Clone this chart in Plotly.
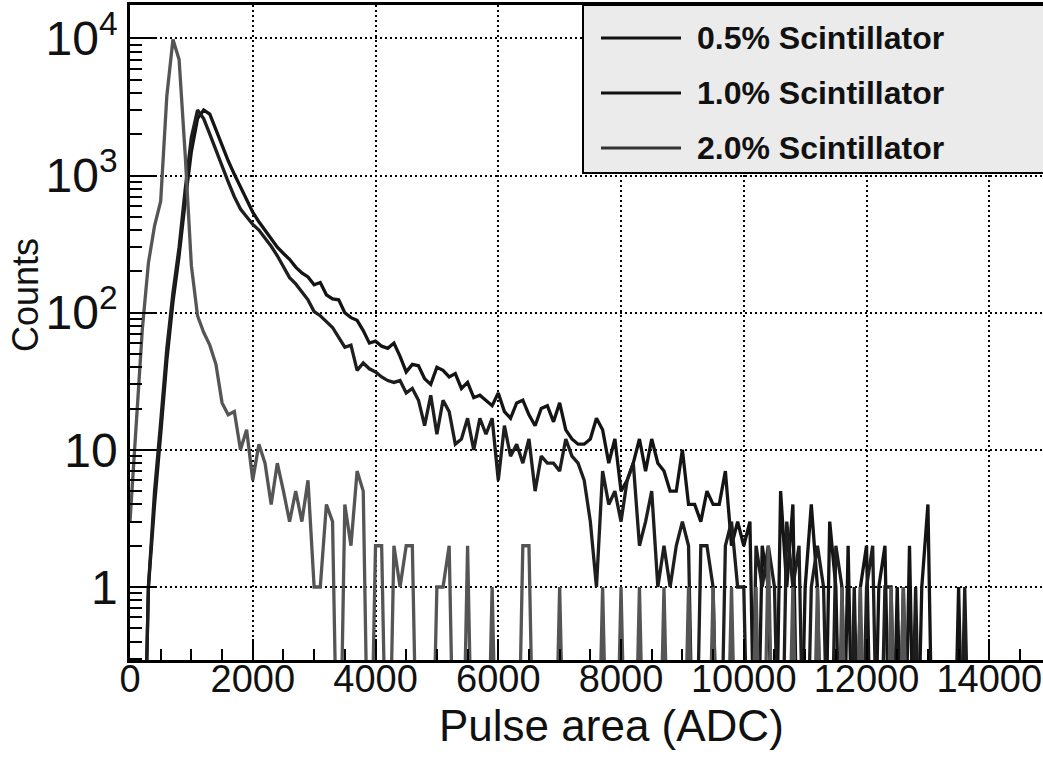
import plotly.graph_objects as go

# ---------------- data (histogram bins, 100 ADC wide) ----------------
bin_width = 100
n_bins = 149
pulse_area = [i * bin_width for i in range(n_bins)]

counts_05 = [
    0, 0, 0, 1, 4, 13, 45, 120, 260, 650,
    1500, 2600, 3000, 2800, 2150, 1650, 1280, 1020, 830, 680,
    540, 460, 400, 345, 300, 270, 245, 215, 195, 182,
    160, 166, 135, 126, 124, 100, 92, 88, 74, 60,
    62, 57, 55, 60, 48, 37, 42, 41, 33, 30,
    40, 38, 34, 36, 28, 31, 24, 25, 23, 21,
    26, 19, 17, 22, 23, 18, 15, 20, 21, 16,
    22, 14, 12, 11, 11, 12, 17, 14, 8, 12,
    5, 6, 8, 12, 7, 12, 8, 7, 5, 5,
    10, 4, 4, 3, 5, 4, 4, 7, 2, 3,
    2, 3, 0, 2, 1, 0, 5, 1, 4, 0,
    1, 4, 1, 0, 3, 1, 0, 2, 0, 1,
    2, 0, 1, 2, 0, 1, 0, 2, 0, 1,
    4, 0, 0, 0, 0, 1, 0, 0, 0, 0,
    0, 0, 0, 0, 0, 0, 0, 0, 0,
]

counts_10 = [
    0, 0, 0, 1, 5, 16, 55, 140, 300, 800,
    1900, 3000, 2600, 2000, 1520, 1170, 900, 700, 570, 500,
    440, 400, 350, 305, 260, 215, 180, 162, 142, 124,
    102, 95, 86, 78, 66, 56, 58, 38, 43, 39,
    37, 34, 32, 31, 32, 26, 28, 23, 15, 25,
    13, 23, 19, 11, 12, 17, 10, 17, 13, 17,
    6, 15, 9, 11, 8, 12, 5, 9, 8, 8,
    7, 12, 9, 8, 6, 3, 1, 7, 4, 5,
    3, 6, 8, 2, 3, 5, 1, 2, 1, 2,
    3, 2, 0, 2, 2, 1, 0, 2, 3, 1,
    1, 0, 2, 1, 2, 1, 0, 3, 1, 2,
    0, 1, 2, 1, 0, 2, 1, 0, 1, 0,
    1, 2, 0, 1, 1, 0, 1, 0, 1, 0,
    0, 0, 0, 0, 0, 0, 1, 0, 0, 0,
    0, 0, 0, 0, 0, 0, 0, 0, 0,
]

counts_20 = [
    3, 14, 75, 230, 430, 650, 3800, 9800, 7000, 1400,
    220, 95, 72, 58, 42, 22, 18, 19, 10, 14,
    6, 11, 8, 4, 8, 5, 3, 5, 3, 6,
    1, 1, 4, 3, 0, 4, 2, 7, 5, 0,
    2, 2, 0, 2, 1, 2, 2, 0, 0, 0,
    1, 1, 2, 0, 0, 2, 0, 0, 0, 1,
    0, 0, 0, 0, 2, 2, 0, 0, 0, 0,
    1, 0, 0, 0, 0, 0, 0, 1, 0, 0,
    1, 0, 0, 1, 0, 0, 0, 1, 0, 0,
    0, 1, 0, 0, 0, 1, 0, 0, 1, 0,
    0, 0, 1, 0, 2, 0, 0, 0, 1, 0,
    0, 0, 1, 0, 0, 0, 1, 0, 0, 1,
    0, 0, 0, 0, 1, 0, 1, 0, 0, 0,
    0, 0, 0, 0, 0, 0, 0, 0, 0, 0,
    0, 0, 0, 0, 0, 0, 0, 0, 0,
]

series_names = ["0.5% Scintillator", "1.0% Scintillator", "2.0% Scintillator"]
series_counts = [counts_05, counts_10, counts_20]
series_colors = ["#141414", "#1e1e1e", "#555555"]

x_ticks = [0, 2000, 4000, 6000, 8000, 10000, 12000, 14000]
y_ticks = [1, 10, 100, 1000, 10000]
y_ticktext = ["1", "10", "10<sup>2</sup>", "10<sup>3</sup>", "10<sup>4</sup>"]
y_minor = [m * 10 ** e for e in range(-1, 4) for m in range(2, 10)]
y_minor = [v for v in y_minor if v >= 0.3]

# empty bins fall off the bottom of the log axis
FLOOR = 0.01
def for_log(values):
    return [v if v > 0 else FLOOR for v in values]

# ---------------- figure ----------------
W, H = 1043, 759
ML, MR, MT, MB = 130, 0, 5, 99
PW, PH = W - ML - MR, H - MT - MB

def px_x(sx):                # pixel x -> paper x
    return (sx - ML) / PW

def px_y(sy):                # pixel y -> paper y
    return (H - MB - sy) / PH

FONT = "Liberation Sans, Arial, Helvetica, sans-serif"
INK = "#111111"

fig = go.Figure()
for name, vals, col in zip(series_names, series_counts, series_colors):
    fig.add_trace(go.Scatter(
        x=pulse_area, y=for_log(vals), mode="lines", name=name,
        line=dict(color=col, width=3.3), showlegend=False,
    ))

fig.update_layout(
    width=W, height=H,
    margin=dict(l=ML, r=MR, t=MT, b=MB, autoexpand=False),
    paper_bgcolor="white", plot_bgcolor="white",
    font=dict(family=FONT, color=INK),
    showlegend=False,
)

fig.update_xaxes(
    automargin=False,
    range=[0, 14875],
    tickvals=x_ticks, ticktext=[str(v) for v in x_ticks],
    ticks="inside", ticklen=21, tickwidth=2, tickcolor="black",
    tickfont=dict(size=38, family=FONT, color=INK),
    ticklabelstandoff=-16, ticklabeloverflow="allow",
    showline=True, linecolor="black", linewidth=2.5, mirror=True,
    showgrid=True, gridcolor="black", gridwidth=2, griddash="2px,3px",
    zeroline=False,
    minor=dict(ticks="inside", ticklen=11, tickwidth=2, tickcolor="black",
               dtick=500, tick0=0, showgrid=False),
)
fig.update_yaxes(
    automargin=False,
    type="log", range=[-0.532, 4.243],
    tickvals=y_ticks, ticktext=y_ticktext,
    ticks="inside", ticklen=25, tickwidth=2, tickcolor="black",
    tickfont=dict(size=48, family=FONT, color=INK),
    ticklabelstandoff=0, ticklabeloverflow="allow",
    showline=True, linecolor="black", linewidth=2.5, mirror=False,
    showgrid=True, gridcolor="black", gridwidth=2, griddash="2px,3px",
    zeroline=False,
    minor=dict(ticks="inside", ticklen=12, tickwidth=2, tickcolor="black",
               tickvals=y_minor, showgrid=False),
)

# axis titles
fig.add_annotation(text="Pulse area (ADC)", xref="paper", yref="paper",
                   x=px_x(611), y=px_y(726), xanchor="center", yanchor="middle",
                   showarrow=False, font=dict(size=44, family=FONT, color=INK))
fig.add_annotation(text="Counts", xref="paper", yref="paper",
                   x=px_x(25), y=px_y(295), xanchor="center", yanchor="middle",
                   textangle=-90, showarrow=False,
                   font=dict(size=36, family=FONT, color=INK))

# legend box (drawn by hand to reproduce the long line samples)
fig.add_shape(type="rect", xref="paper", yref="paper",
              x0=px_x(583), x1=px_x(1070), y0=px_y(173), y1=px_y(5),
              fillcolor="#ebebeb", line=dict(color="black", width=2), layer="above")
legend_rows = [38, 93, 148]
legend_line_colors = ["#111111", "#111111", "#333333"]
for name, row, col in zip(series_names, legend_rows, legend_line_colors):
    fig.add_shape(type="line", xref="paper", yref="paper",
                  x0=px_x(601), x1=px_x(681), y0=px_y(row), y1=px_y(row),
                  line=dict(color=col, width=3), layer="above")
    fig.add_annotation(text="<b>%s</b>" % name, xref="paper", yref="paper",
                       x=px_x(695), y=px_y(row), xanchor="left", yanchor="middle",
                       showarrow=False, font=dict(size=32, family=FONT, color=INK))

# the page's default body margin would shift the figure by 8 px
fig.write_html("out.html", config={"displayModeBar": False},
               post_script="document.body.style.margin='0px';")
